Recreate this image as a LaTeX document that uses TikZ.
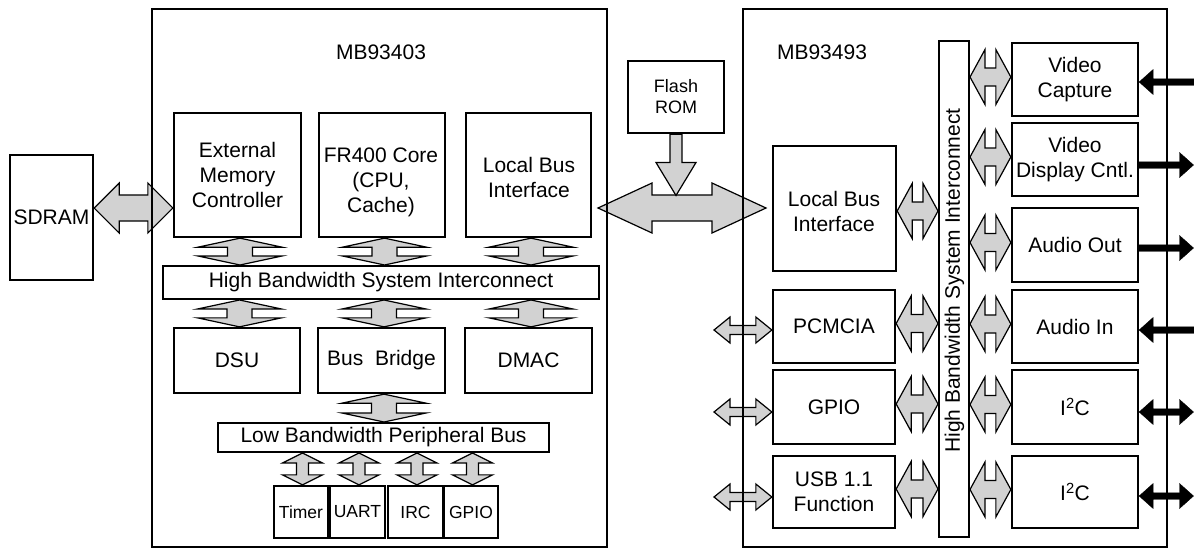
\documentclass[tikz,border=0pt]{standalone}
\usepackage{fontspec}
\setmainfont{Liberation Sans}
\usetikzlibrary{calc}
\definecolor{argrey}{RGB}{210,210,210}
\newcommand{\mainfs}{\fontsize{21}{25}\selectfont}
\newcommand{\smallfs}{\fontsize{17.5}{21}\selectfont}
% horizontal double arrow: #1 A, #2 B, #3 head half-width, #4 shaft half-width, #5 head length, #6 style
\newcommand{\hfat}[6]{%
  \path ($(#1)!#5!(#2)$) coordinate (fa1) ($(#2)!#5!(#1)$) coordinate (fa2);
  \draw[#6] (#1) -- ($(fa1)+(0,#3)$) -- ($(fa1)+(0,#4)$) -- ($(fa2)+(0,#4)$) -- ($(fa2)+(0,#3)$) -- (#2)
    -- ($(fa2)+(0,-#3)$) -- ($(fa2)+(0,-#4)$) -- ($(fa1)+(0,-#4)$) -- ($(fa1)+(0,-#3)$) -- cycle;}
% vertical double arrow
\newcommand{\vfat}[6]{%
  \path ($(#1)!#5!(#2)$) coordinate (fa1) ($(#2)!#5!(#1)$) coordinate (fa2);
  \draw[#6] (#1) -- ($(fa1)+(#3,0)$) -- ($(fa1)+(#4,0)$) -- ($(fa2)+(#4,0)$) -- ($(fa2)+(#3,0)$) -- (#2)
    -- ($(fa2)+(-#3,0)$) -- ($(fa2)+(-#4,0)$) -- ($(fa1)+(-#4,0)$) -- ($(fa1)+(-#3,0)$) -- cycle;}
% horizontal single arrow from tail #1 to tip #2
\newcommand{\hsingle}[6]{%
  \path ($(#2)!#5!(#1)$) coordinate (fa2);
  \draw[#6] ($(#1)+(0,#4)$) -- ($(fa2)+(0,#4)$) -- ($(fa2)+(0,#3)$) -- (#2)
    -- ($(fa2)+(0,-#3)$) -- ($(fa2)+(0,-#4)$) -- ($(#1)+(0,-#4)$) -- cycle;}
% vertical single arrow from tail #1 to tip #2
\newcommand{\vsingle}[6]{%
  \path ($(#2)!#5!(#1)$) coordinate (fa2);
  \draw[#6] ($(#1)+(#4,0)$) -- ($(fa2)+(#4,0)$) -- ($(fa2)+(#3,0)$) -- (#2)
    -- ($(fa2)+(-#3,0)$) -- ($(fa2)+(-#4,0)$) -- ($(#1)+(-#4,0)$) -- cycle;}
\begin{document}
\begin{tikzpicture}[x=1pt,y=-1pt,
  box/.style={draw, line width=2.3pt, inner sep=0pt, align=center, font=\mainfs},
  bar/.style={draw, line width=2pt, inner sep=0pt, align=center, font=\mainfs},
  chip/.style={draw, line width=2pt, inner sep=0pt},
  txt/.style={inner sep=0pt, align=center, font=\mainfs},
  fat/.style={fill=argrey, draw=black, line width=1.2pt, line join=miter},
  blk/.style={fill=black, draw=black, line width=0.4pt, line join=miter}]
\useasboundingbox (0,0) rectangle (1194,549);

% ---------- left side ----------
\node[box, minimum width=83pt, minimum height=125pt] (sdram) at (51.5,217.5) {SDRAM};
\node[txt] (titleA) at (381,52) {MB93403};
\node[box, minimum width=127pt, minimum height=124pt] (emc) at (237.5,175) {External\\Memory\\Controller};
\node[box, minimum width=126pt, minimum height=124pt] (fr400) at (382,175) {};
\node[txt] (fr400txt) at (381,182) {FR400 Core\\(CPU,\\Cache)};
\node[box, minimum width=125pt, minimum height=124pt] (lbiA) at (528.5,175) {};
\node[txt] (lbiAtxt) at (529,177.5) {Local Bus\\Interface};
\node[bar, minimum width=436pt, minimum height=33pt] (hbsiA) at (381,282.5) {High Bandwidth System Interconnect};
\node[box, minimum width=126pt, minimum height=65pt] (dsu) at (237,360.5) {DSU};
\node[box, minimum width=127pt, minimum height=65pt] (bridge) at (381.5,360.5) {Bus~ Bridge};
\node[box, minimum width=127pt, minimum height=65pt] (dmac) at (528.5,360.5) {DMAC};
\node[bar, minimum width=331pt, minimum height=29pt] (lbpb) at (383.5,437.5) {Low Bandwidth Peripheral Bus};
\node[box, font=\smallfs, minimum width=54pt, minimum height=52pt] (timer) at (301,512) {Timer};
\node[box, font=\smallfs, minimum width=55pt, minimum height=52pt] (uart) at (357.5,512) {UART};
\node[box, font=\smallfs, minimum width=55pt, minimum height=52pt] (irc) at (415.5,512) {IRC};
\node[box, font=\smallfs, minimum width=54pt, minimum height=52pt] (gpioA) at (471,512) {GPIO};

% flash
\node[box, font={\fontsize{18}{21}\selectfont}, minimum width=96pt, minimum height=72pt] (flash) at (676,97) {Flash\\ROM};

% ---------- right side ----------
\node[txt] (titleB) at (822,52) {MB93493};
\node[box, minimum width=123pt, minimum height=125pt] (lbiB) at (834.5,208.5) {};
\node[txt] (lbiBtxt) at (834,211) {Local Bus\\Interface};
\node[box, minimum width=122pt, minimum height=73pt] (pcmcia) at (834,326.5) {PCMCIA};
\node[box, minimum width=122pt, minimum height=74pt] (gpioB) at (834,407) {GPIO};
\node[box, minimum width=122pt, minimum height=72pt] (usb) at (834,492) {USB 1.1\\Function};
\node[bar, minimum width=30pt, minimum height=496pt] (hbsiB) at (954,289) {};
\node[txt, rotate=90] (hbsiBtxt) at (954.5,280.5) {High Bandwidth System Interconnect};
\node[box, minimum width=126pt, minimum height=73pt] (vcap) at (1075,79.5) {Video\\Capture};
\node[box, minimum width=126pt, minimum height=73pt] (vdisp) at (1075,159.5) {Video\\Display Cntl.};
\node[box, minimum width=126pt, minimum height=74pt] (aout) at (1075,245) {Audio Out};
\node[box, minimum width=126pt, minimum height=73pt] (ain) at (1075,326.5) {Audio In};
\node[box, minimum width=126pt, minimum height=74pt] (i2ca) at (1075,407) {I\textsuperscript{2}C};
\node[box, minimum width=126pt, minimum height=72pt] (i2cb) at (1075,492) {I\textsuperscript{2}C};

% ---------- grey arrows, left chip ----------
\hfat{sdram.east |- 0,208}{emc.west |- 0,208}{25}{13}{25pt}{fat}
\foreach \n in {emc,fr400,lbiA}{
  \coordinate (t) at ($(\n.south)+(2.5,0)$);
  \vfat{t}{t |- hbsiA.north}{42}{12.5}{9pt}{fat}
}
\foreach \n in {dsu,bridge,dmac}{
  \coordinate (t) at ($(\n.north)+(2.5,0)$);
  \vfat{t |- hbsiA.south}{t}{42}{12.5}{9pt}{fat}
}
\coordinate (t) at ($(bridge.south)+(2.5,0)$);
\vfat{t}{t |- lbpb.north}{42}{12.5}{9pt}{fat}
\foreach \n in {timer,uart,irc,gpioA}{
  \coordinate (t) at ($(\n.north)+(1.5,0)$);
  \vfat{t |- lbpb.south}{t}{20}{6}{10pt}{fat}
}

% ---------- local bus between chips ----------
\coordinate (busL) at (598,208);
\coordinate (busR) at (766,208);
\hfat{busL}{busR}{25}{13}{54pt}{fat}
\vsingle{flash.south}{flash.south |- 0,195.5}{20}{6}{33pt}{fat}

% ---------- grey arrows, right chip ----------
\coordinate (t) at ($(lbiB.east)+(0,2.5)$);
\hfat{t}{t -| hbsiB.west}{27.5}{9}{15pt}{fat}
\foreach \n in {pcmcia,gpioB,usb}{
  \coordinate (t) at ($(\n.east)+(0,-3)$);
  \hfat{t}{t -| hbsiB.west}{27.5}{9}{15pt}{fat}
}
\foreach \n in {vcap,vdisp,aout,ain,i2ca,i2cb}{
  \coordinate (t) at ($(\n.west)+(0,-2.5)$);
  \hfat{t -| hbsiB.east}{t}{27.5}{9}{15pt}{fat}
}
\coordinate (ext1) at (714,330);
\coordinate (ext2) at (714,412);
\coordinate (ext3) at (714,497);
\hfat{ext1}{ext1 -| pcmcia.west}{13}{4.5}{16pt}{fat}
\hfat{ext2}{ext2 -| gpioB.west}{13}{4.5}{16pt}{fat}
\hfat{ext3}{ext3 -| usb.west}{13}{4.5}{16pt}{fat}

% ---------- black external arrows ----------
\coordinate (o1) at (1196,82);
\coordinate (o2) at (1193.5,165);
\coordinate (o3) at (1193.5,248);
\coordinate (o4) at (1196,330);
\coordinate (o5) at (1193.5,412);
\coordinate (o6) at (1193.5,496);
\hsingle{o1}{o1 -| vcap.east}{12.5}{3.25}{14pt}{blk}
\hsingle{o2 -| vdisp.east}{o2}{12.5}{3.25}{14pt}{blk}
\hsingle{o3 -| aout.east}{o3}{12.5}{3.25}{14pt}{blk}
\hsingle{o4}{o4 -| ain.east}{12.5}{3.25}{14pt}{blk}
\hfat{o5 -| i2ca.east}{o5}{12.5}{3.25}{14pt}{blk}
\hfat{o6 -| i2cb.east}{o6}{12.5}{3.25}{14pt}{blk}

% ---------- chip frames (drawn over the arrows) ----------
\node[chip, minimum width=455pt, minimum height=538pt] (chipA) at (379.5,278) {};
\node[chip, minimum width=424pt, minimum height=538pt] (chipB) at (955,278) {};
\end{tikzpicture}
\end{document}
